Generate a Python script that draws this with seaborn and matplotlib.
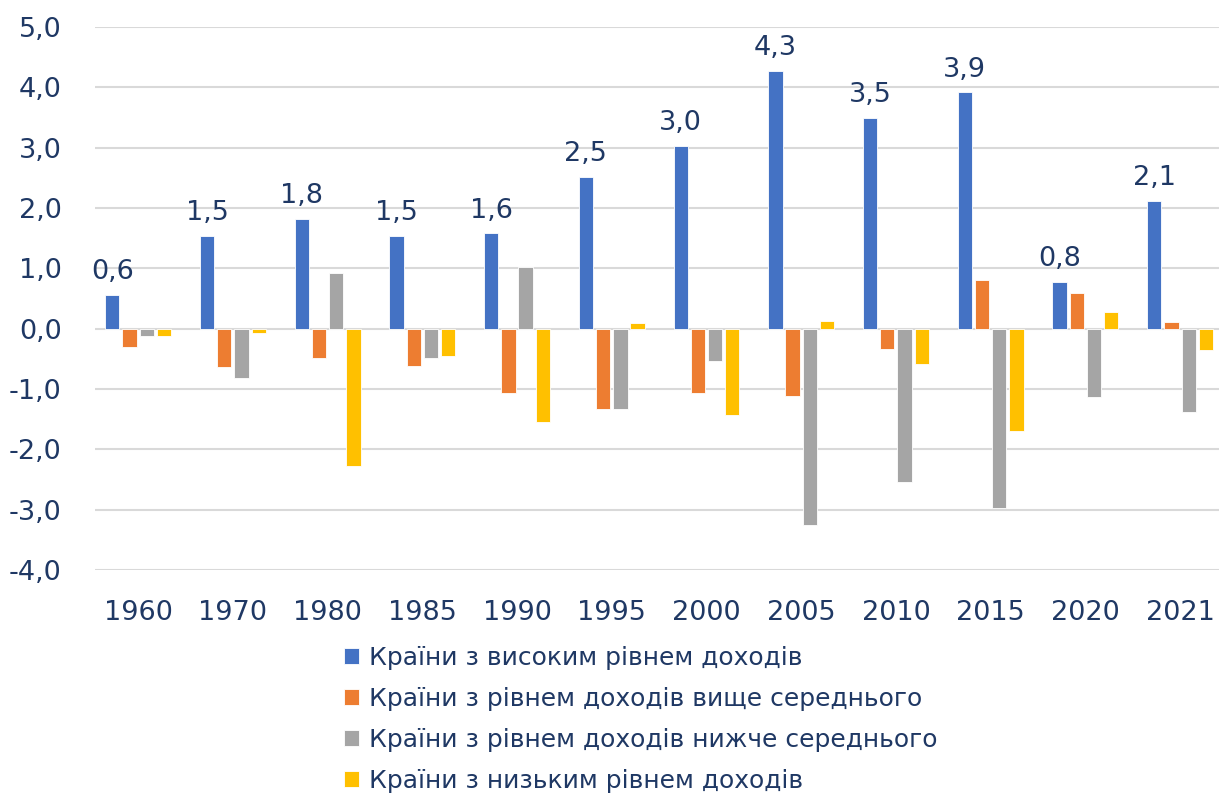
import pandas as pd
import matplotlib.pyplot as plt
import seaborn as sns
from matplotlib.ticker import FuncFormatter

# Дані
years = ['1960', '1970', '1980', '1985', '1990', '1995', '2000', '2005', '2010', '2015', '2020', '2021']
groups = ['Країни з високим рівнем доходів',
          'Країни з рівнем доходів вище середнього',
          'Країни з рівнем доходів нижче середнього',
          'Країни з низьким рівнем доходів']
high = [0.56, 1.54, 1.82, 1.54, 1.58, 2.52, 3.03, 4.28, 3.50, 3.92, 0.78, 2.12]
upper_mid = [-0.31, -0.63, -0.48, -0.62, -1.07, -1.33, -1.07, -1.11, -0.33, 0.81, 0.59, 0.11]
lower_mid = [-0.13, -0.82, 0.92, -0.48, 1.02, -1.34, -0.54, -3.26, -2.55, -2.97, -1.14, -1.38]
low = [-0.12, -0.07, -2.27, -0.45, -1.55, 0.10, -1.43, 0.12, -0.59, -1.70, 0.27, -0.35]

colors = ['#4472C4', '#ED7D31', '#A5A5A5', '#FFC000']
text_color = '#1F3864'

df = pd.DataFrame({
    'Рік': years * 4,
    'Група': [g for g in groups for _ in years],
    'Значення': high + upper_mid + lower_mid + low,
})

sns.set_style('white')
plt.rcParams['font.family'] = ['DejaVu Sans']

fig = plt.figure(figsize=(12.19, 7.97), dpi=100)
ax = fig.add_axes([0.078, 0.285, 0.922, 0.681])

sns.barplot(data=df, x='Рік', y='Значення', hue='Група', palette=colors,
            saturation=1, width=0.727, gap=0.17, edgecolor='white', linewidth=0.6,
            legend=True, ax=ax)

# Підписи над синіми стовпцями
ax.bar_label(ax.containers[0], labels=[f'{v:.1f}'.replace('.', ',') for v in high],
             padding=7, fontsize=19.5, color=text_color)

ax.set_ylim(-4, 5)
ax.set_yticks(range(-4, 6))
ax.yaxis.set_major_formatter(FuncFormatter(lambda v, p: f'{v:.1f}'.replace('.', ',')))
ax.set_xlim(-0.454, 11.41)
ax.grid(axis='y', color='#D9D9D9', linewidth=1.5)
ax.set_axisbelow(True)
for s in ax.spines.values():
    s.set_visible(False)
ax.set_xlabel('')
ax.set_ylabel('')
ax.tick_params(axis='both', labelsize=19.5, labelcolor=text_color, length=0)
ax.tick_params(axis='x', pad=22)
ax.tick_params(axis='y', pad=24)

handles, labels = ax.get_legend_handles_labels()
ax.get_legend().remove()
fig.legend(handles, labels, loc='upper center', bbox_to_anchor=(0.526, 0.218),
           ncol=1, frameon=False, prop={'family': 'DejaVu Sans', 'size': 18},
           labelcolor=text_color, handlelength=0.6, handleheight=0.6,
           handletextpad=0.4, labelspacing=0.68)

plt.savefig('out.png', dpi=100)
